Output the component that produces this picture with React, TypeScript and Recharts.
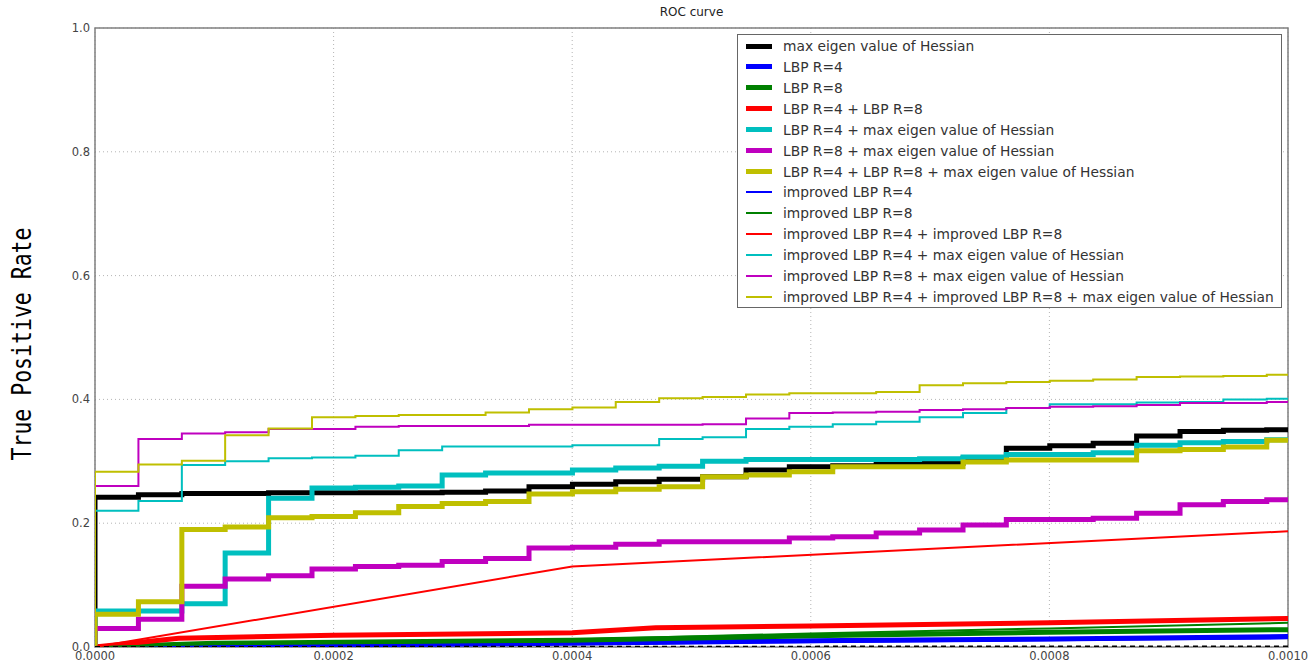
import React from 'react';
import { LineChart, Line, XAxis, YAxis, CartesianGrid, ReferenceArea } from 'recharts';

// False positive rates at which the step curves change
const fprSteps = [
  0, 0.0000364, 0.0000728, 0.0001091, 0.0001455, 0.0001819, 0.0002183, 0.0002546,
  0.000291, 0.0003274, 0.0003638, 0.0004002, 0.0004365, 0.0004729, 0.0005093, 0.0005457,
  0.000582, 0.0006184, 0.0006548, 0.0006912, 0.0007276, 0.0007639, 0.0008003, 0.0008367,
  0.0008731, 0.0009095, 0.0009458, 0.0009822,
];
const fprEnd = 0.001;

// Step series (TPR on each FPR step)
const tprMaxEigen = [0.242, 0.246, 0.248, 0.248, 0.249, 0.249, 0.249, 0.249, 0.25, 0.252, 0.259, 0.263, 0.267, 0.271, 0.275, 0.286, 0.291, 0.293, 0.297, 0.297, 0.305, 0.321, 0.325, 0.329, 0.341, 0.348, 0.35, 0.351];
const tprLbp4Max = [0.058, 0.058, 0.07, 0.152, 0.2405, 0.257, 0.258, 0.26, 0.278, 0.281, 0.281, 0.286, 0.289, 0.292, 0.3, 0.303, 0.303, 0.303, 0.303, 0.304, 0.307, 0.311, 0.311, 0.314, 0.326, 0.33, 0.332, 0.335];
const tprLbp8Max = [0.03, 0.045, 0.098, 0.11, 0.115, 0.126, 0.13, 0.132, 0.138, 0.143, 0.16, 0.161, 0.166, 0.17, 0.17, 0.17, 0.176, 0.178, 0.184, 0.189, 0.197, 0.206, 0.206, 0.208, 0.216, 0.23, 0.235, 0.238];
const tprLbp48Max = [0.053, 0.073, 0.19, 0.194, 0.209, 0.211, 0.217, 0.227, 0.232, 0.235, 0.247, 0.251, 0.255, 0.259, 0.275, 0.278, 0.283, 0.291, 0.291, 0.291, 0.299, 0.302, 0.302, 0.302, 0.317, 0.319, 0.323, 0.334];
const tprImp4Max = [0.22, 0.236, 0.294, 0.3, 0.305, 0.306, 0.309, 0.318, 0.324, 0.324, 0.324, 0.326, 0.326, 0.336, 0.339, 0.352, 0.356, 0.36, 0.364, 0.371, 0.378, 0.386, 0.392, 0.392, 0.395, 0.396, 0.4, 0.401];
const tprImp8Max = [0.26, 0.336, 0.345, 0.347, 0.352, 0.352, 0.356, 0.357, 0.357, 0.357, 0.359, 0.359, 0.359, 0.359, 0.36, 0.369, 0.378, 0.379, 0.38, 0.383, 0.384, 0.386, 0.388, 0.389, 0.391, 0.394, 0.394, 0.396];
const tprImp48Max = [0.283, 0.295, 0.301, 0.342, 0.353, 0.371, 0.373, 0.375, 0.375, 0.379, 0.384, 0.387, 0.396, 0.402, 0.404, 0.408, 0.41, 0.41, 0.412, 0.423, 0.426, 0.428, 0.43, 0.432, 0.436, 0.437, 0.438, 0.44];

// Point series (straight segments)
const fprLbp4 = [0, 0.0002, 0.0004, 0.0006, 0.0008, 0.001];
const tprLbp4 = [0, 0.003, 0.006, 0.01, 0.013, 0.017];
const fprLbp8 = [0, 0.0001, 0.0004, 0.0006, 0.0008, 0.001];
const tprLbp8 = [0, 0.006, 0.011, 0.018, 0.024, 0.028];
const fprLbp48 = [0, 0.00007, 0.0002, 0.0004, 0.00047, 0.0006, 0.0008, 0.001];
const tprLbp48 = [0, 0.014, 0.019, 0.023, 0.031, 0.034, 0.039, 0.046];
const fprImp4 = [0, 0.0004, 0.001];
const tprImp4 = [0, 0.005, 0.014];
const fprImp8 = [0, 0.0001, 0.0004, 0.0006, 0.0008, 0.001];
const tprImp8 = [0, 0.005, 0.012, 0.022, 0.03, 0.039];
const fprImp48 = [0, 0.0004, 0.001];
const tprImp48 = [0, 0.13, 0.187];
const fprChance = [0, 0.001];
const tprChance = [0, 0.001];

const xTicks = [0, 0.0002, 0.0004, 0.0006, 0.0008, 0.001];
const yTicks = [0, 0.2, 0.4, 0.6, 0.8, 1.0];

const seriesNames = [
  'max eigen value of Hessian',
  'LBP R=4',
  'LBP R=8',
  'LBP R=4 + LBP R=8',
  'LBP R=4 + max eigen value of Hessian',
  'LBP R=8 + max eigen value of Hessian',
  'LBP R=4 + LBP R=8 + max eigen value of Hessian',
  'improved LBP R=4',
  'improved LBP R=8',
  'improved LBP R=4 + improved LBP R=8',
  'improved LBP R=4 + max eigen value of Hessian',
  'improved LBP R=8 + max eigen value of Hessian',
  'improved LBP R=4 + improved LBP R=8 + max eigen value of Hessian',
];

const stepData = (vals: number[]) => [
  { x: 0, y: 0 },
  ...fprSteps.map((x, i) => ({ x, y: vals[i] })),
  { x: fprEnd, y: vals[vals.length - 1] },
];
const pointData = (xs: number[], ys: number[]) => xs.map((x, i) => ({ x, y: ys[i] }));

const K = '#000000', B = '#0000ff', G = '#008000', R = '#ff0000', C = '#00bfbf', M = '#bf00bf', Y = '#bfbf00';
const THICK = 5, THIN = 2;

const series = [
  { name: seriesNames[0], color: K, w: THICK, type: 'stepAfter', data: stepData(tprMaxEigen) },
  { name: seriesNames[1], color: B, w: THICK, type: 'linear', data: pointData(fprLbp4, tprLbp4) },
  { name: seriesNames[2], color: G, w: THICK, type: 'linear', data: pointData(fprLbp8, tprLbp8) },
  { name: seriesNames[3], color: R, w: THICK, type: 'linear', data: pointData(fprLbp48, tprLbp48) },
  { name: seriesNames[4], color: C, w: THICK, type: 'stepAfter', data: stepData(tprLbp4Max) },
  { name: seriesNames[5], color: M, w: THICK, type: 'stepAfter', data: stepData(tprLbp8Max) },
  { name: seriesNames[6], color: Y, w: THICK, type: 'stepAfter', data: stepData(tprLbp48Max) },
  { name: seriesNames[7], color: B, w: THIN, type: 'linear', data: pointData(fprImp4, tprImp4) },
  { name: seriesNames[8], color: G, w: THIN, type: 'linear', data: pointData(fprImp8, tprImp8) },
  { name: seriesNames[9], color: R, w: THIN, type: 'linear', data: pointData(fprImp48, tprImp48) },
  { name: seriesNames[10], color: C, w: THIN, type: 'stepAfter', data: stepData(tprImp4Max) },
  { name: seriesNames[11], color: M, w: THIN, type: 'stepAfter', data: stepData(tprImp8Max) },
  { name: seriesNames[12], color: Y, w: THIN, type: 'stepAfter', data: stepData(tprImp48Max) },
];

const FONT = '"DejaVu Sans", sans-serif';

export default function App() {
  return (
    <div style={{ position: 'absolute', left: 0, top: 0, width: 1309, height: 666, background: '#fff', overflow: 'hidden' }}>
      <LineChart width={1309} height={666} margin={{ top: 28, right: 21, bottom: 0, left: 0 }}>
        <CartesianGrid stroke="#b4b4b4" strokeDasharray="1 3" />
        <XAxis
          type="number"
          dataKey="x"
          domain={[0, 0.001]}
          ticks={xTicks}
          allowDataOverflow
          height={19}
          tickSize={0}
          tickMargin={5}
          axisLine={false}
          tickFormatter={(v: number) => v.toFixed(4)}
          tick={{ fontSize: 11.5, fill: '#444', fontFamily: FONT }}
        />
        <YAxis
          type="number"
          domain={[0, 1]}
          ticks={yTicks}
          allowDataOverflow
          width={95}
          tickSize={0}
          tickMargin={5}
          axisLine={false}
          tickFormatter={(v: number) => v.toFixed(1)}
          tick={{ fontSize: 11.5, fill: '#444', fontFamily: FONT }}
        />
        {series.map((s) => (
          <Line
            key={s.name}
            data={s.data}
            dataKey="y"
            name={s.name}
            type={s.type as any}
            stroke={s.color}
            strokeWidth={s.w}
            dot={false}
            activeDot={false}
            isAnimationActive={false}
          />
        ))}
        <Line
          data={pointData(fprChance, tprChance)}
          dataKey="y"
          name="chance"
          type="linear"
          stroke="#000"
          strokeWidth={2}
          strokeDasharray="5 4"
          dot={false}
          activeDot={false}
          isAnimationActive={false}
        />
        <ReferenceArea x1={0} x2={0.001} y1={0} y2={1} fill="none" fillOpacity={0} stroke="#808080" strokeWidth={1.5} />
      </LineChart>

      <div style={{ position: 'absolute', left: 0, width: 1383, top: 5, textAlign: 'center', fontFamily: FONT, fontSize: 12, color: '#222' }}>
        ROC curve
      </div>

      <div
        style={{
          position: 'absolute',
          left: 22,
          top: 344,
          transform: 'translate(-50%, -50%) rotate(-90deg) scaleY(1.2)',
          fontFamily: '"DejaVu Sans Mono", monospace',
          fontSize: 21.5,
          color: '#000',
          whiteSpace: 'nowrap',
        }}
      >
        True Positive Rate
      </div>

      <div
        style={{
          position: 'absolute',
          left: 737,
          top: 34,
          width: 545,
          height: 274,
          boxSizing: 'border-box',
          border: '1.5px solid #666',
          background: '#fff',
          fontFamily: FONT,
          fontSize: 13.8,
          color: '#333',
        }}
      >
        {series.map((s, i) => (
          <div key={s.name} style={{ position: 'absolute', left: 0, top: 11 + i * 20.92 - 10, height: 20, width: '100%' }}>
            <div style={{ position: 'absolute', left: 8, top: 10 - s.w / 2, width: 26, height: s.w, background: s.color }} />
            <div style={{ position: 'absolute', left: 45, top: 2, whiteSpace: 'nowrap', lineHeight: '16px' }}>{s.name}</div>
          </div>
        ))}
      </div>
    </div>
  );
}
